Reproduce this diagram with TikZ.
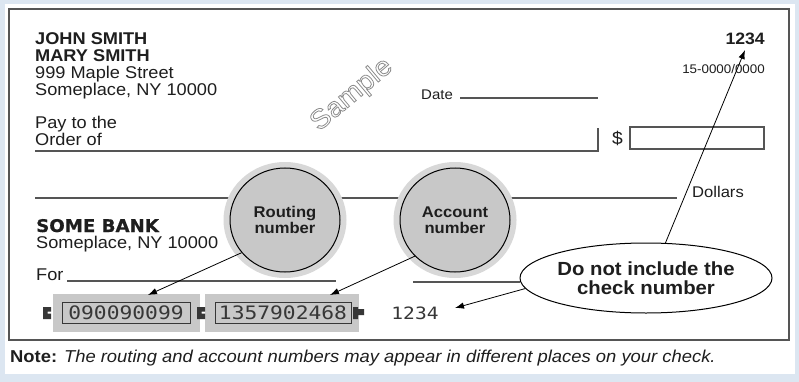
\documentclass[tikz,border=0pt]{standalone}
\usepackage{fontspec}
\setmainfont[FakeStretch=1.07]{Liberation Sans}
\newfontfamily\bankfont[FakeStretch=1.04,FakeBold=0.6]{DejaVu Sans}
\newfontfamily\micrfont[FakeStretch=1.15]{DejaVu Sans Mono}
\usetikzlibrary{arrows.meta,shapes.geometric}
\definecolor{bgblue}{RGB}{220,230,241}
\definecolor{circfill}{RGB}{200,200,200}
\definecolor{halo}{RGB}{216,216,216}
\definecolor{ink}{RGB}{30,30,30}
\definecolor{rulec}{RGB}{85,85,85}
\definecolor{micrink}{RGB}{55,55,55}
\newcommand{\fs}[1]{\fontsize{#1}{#1}\selectfont}
\newcommand{\outlinetext}[1]{\special{pdf:literal direct 1 Tr 0.8 w 0.55 G}#1\special{pdf:literal direct 0 Tr}}
\begin{document}
\begin{tikzpicture}[x=1pt,y=-1pt,
  txt/.style={anchor=base west, inner sep=0pt, text=ink, font=\fs{17}},
  rtxt/.style={anchor=base east, inner sep=0pt, text=ink},
  rulel/.style={draw=rulec, line width=1.1pt},
  arr/.style={draw=black, line width=0.8pt, -{Latex[length=9pt,width=6.5pt]}},
  bubble/.style={ellipse, draw=black, line width=1pt, fill=circfill, inner sep=0pt,
    minimum width=110pt, minimum height=104pt, align=center, text=ink,
    font=\fs{15.5}\bfseries},
  haloc/.style={ellipse, fill=halo, inner sep=0pt, minimum width=123pt, minimum height=116pt},
  band/.style={fill=circfill, inner sep=0pt, minimum height=38pt},
  micrbox/.style={draw=micrink, line width=0.9pt, inner sep=0pt, minimum height=21pt,
    text=micrink, font=\micrfont\fs{18.5}},
]
\useasboundingbox (0,0) rectangle (799,382);
\fill[bgblue] (0,0) rectangle (799,382);
\fill[white] (5,4) rectangle (795,374);
\draw[rulec, line width=1.3pt] (9,9) rectangle (789,340);

% owner
\node[txt, font=\fs{17}\bfseries] (own1) at (35,45) {JOHN SMITH};
\node[txt, font=\fs{17}\bfseries] (own2) at (35,62) {MARY SMITH};
\node[txt] (own3) at (35,79) {999 Maple Street};
\node[txt] (own4) at (35,96) {Someplace, NY 10000};

% sample
\node[rotate=40, inner sep=0pt, text=white, font=\fs{27}] (sample) at (352,95) {\outlinetext{Sample}};

% check number top
\node[rtxt, font=\fs{16.5}\bfseries] (cnum) at (765,45) {1234};
\node[rtxt, font=\fs{12.5}] (frac) at (765,74) {15-0000/0000};

% date
\node[txt, font=\fs{14}] (date) at (421,100) {Date};
\draw[rulel] (460,98) -- (598,98);

% pay to
\node[txt] (pay1) at (35,129) {Pay to the};
\node[txt] (pay2) at (35,146) {Order of};
\draw[rulel] (35,151) -- (598,151) -- (598,128);
\node[txt, font=\fs{18}] (dollar) at (612,145) {\$};
\draw[rulel] (630,127) rectangle (764,149);

% dollars line
\draw[rulel] (35,198) -- (677,198);
\node[txt, font=\fs{15.5}] (dollars) at (692,197) {Dollars};

% bank
\node[txt, font=\bankfont\fs{17.5}\bfseries] (bank1) at (36,232) {SOME BANK};
\node[txt] (bank2) at (36,248) {Someplace, NY 10000};

% for line
\node[txt] (for) at (36,280) {For};
\draw[rulel] (67,281) -- (336,281);

% circles
\node[haloc] (routh) at (285,220) {};
\node[bubble] (rout) at (285,220) {Routing\\number};
\node[haloc] (accth) at (455,220) {};
\node[bubble] (acct) at (455,220) {Account\\number};

% warning ellipse
\node[ellipse, draw=black, line width=1pt, fill=white, inner sep=0pt,
  minimum width=252pt, minimum height=70pt, align=center, text=ink,
  font=\fs{19}\bfseries] (warn) at (646,278) {Do not include the\\check number};
\draw[rulel] (413,282) -- (warn.west |- 0,282);

% MICR band
\node[band, minimum width=147pt] (rband) at (126.5,313) {};
\node[band, minimum width=154pt] (aband) at (282,313) {};
\node[micrbox, minimum width=128pt] (rnum) at (126,312.5) {090090099};
\node[micrbox, minimum width=136pt] (anum) at (283,312.5) {1357902468};
\node[inner sep=0pt, text=micrink, font=\micrfont\fs{17}] (chk) at (415,313) {1234};

% MICR symbols
\fill[micrink] (43,307) rectangle (47.5,319) (47.5,307) rectangle (51,311.5) (47.5,313.5) rectangle (51,319);
\fill[micrink] (197,307) rectangle (201.5,319) (201.5,307) rectangle (205,311.5) (201.5,313.5) rectangle (205,319);
\fill[micrink] (353,307) rectangle (358,319) (358,309) rectangle (364,315);

% arrows
\coordinate (rtip) at (148,295);
\coordinate (atip) at (330,295);
\coordinate (ctip) at (455,308);
\coordinate (ntip) at (745,50);
\draw[arr] (rout.217) -- (rtip);
\draw[arr] (acct.222) -- (atip);
\draw[arr] (warn.185) -- (ctip);
\draw[arr] (warn.61) -- (ntip);

% note
\node[txt, font=\fs{17.2}] (note) at (10,362) {\textbf{Note:} \textit{The routing and account numbers may appear in different places on your check.}};
\end{tikzpicture}
\end{document}
